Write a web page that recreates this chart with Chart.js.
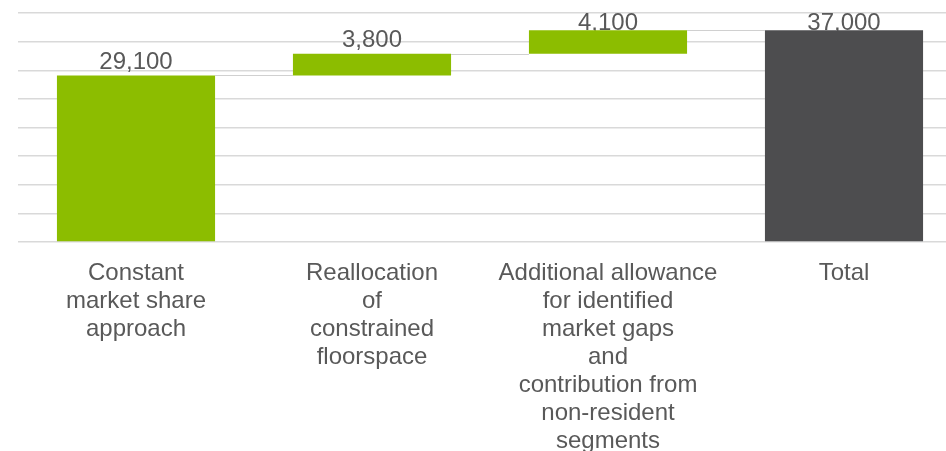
<!DOCTYPE html>
<html>
<head>
<meta charset="utf-8">
<script src="https://cdn.jsdelivr.net/npm/chart.js@4.4.1/dist/chart.umd.min.js"></script>
<style>
    html, body { margin: 0; padding: 0; background: #fff; overflow: hidden; }
    #contenedor { width: 964px; height: 451px; }
</style>
</head>
<body>
<div id="contenedor"><canvas id="puenteChart" width="964" height="451"></canvas></div>
<script>
// Datos del gráfico de cascada
const categorias = [
    ['Constant', 'market share', 'approach'],
    ['Reallocation', 'of', 'constrained', 'floorspace'],
    ['Additional allowance', 'for identified', 'market gaps', 'and', 'contribution from', 'non-resident', 'segments'],
    ['Total']
];
const incrementos = [29100, 3800, 4100];
const total = 37000;
const ejeY = { min: 0, max: 40000, paso: 5000 };
const colores = ['#8CBD00', '#8CBD00', '#8CBD00', '#4D4D4F'];

// Rangos flotantes: cada paso empieza donde termina el anterior
const rangos = [];
let acumulado = 0;
incrementos.forEach(v => {
    rangos.push([acumulado, acumulado + v]);
    acumulado += v;
});
rangos.push([0, total]);
const etiquetas = incrementos.concat([total]);

const fuente = 'Liberation Sans, Arial, sans-serif';

// Etiquetas de valor (se dibujan antes de las barras, quedan detrás)
const etiquetasValor = {
    id: 'etiquetasValor',
    beforeDatasetsDraw(chart) {
        const ctx = chart.ctx;
        const barras = chart.getDatasetMeta(0).data;
        ctx.save();
        ctx.font = '24px ' + fuente;
        ctx.fillStyle = '#595959';
        ctx.textAlign = 'center';
        ctx.textBaseline = 'middle';
        barras.forEach((barra, i) => {
            const y = Math.max(barra.y - 13, 23);
            ctx.fillText(etiquetas[i].toLocaleString('en-US'), barra.x, y);
        });
        ctx.restore();
    },
    // Líneas conectoras entre barras
    afterDatasetsDraw(chart) {
        const ctx = chart.ctx;
        const barras = chart.getDatasetMeta(0).data;
        const y = chart.scales.y;
        ctx.save();
        ctx.strokeStyle = '#D0D0D0';
        ctx.lineWidth = 1;
        for (let i = 0; i < barras.length - 1; i++) {
            const py = Math.round(y.getPixelForValue(rangos[i][1])) + 0.5;
            ctx.beginPath();
            ctx.moveTo(barras[i].x + barras[i].width / 2, py);
            ctx.lineTo(barras[i + 1].x - barras[i + 1].width / 2, py);
            ctx.stroke();
        }
        ctx.restore();
    }
};

const ctx = document.getElementById('puenteChart').getContext('2d');
new Chart(ctx, {
    type: 'bar',
    data: {
        labels: categorias,
        datasets: [{
            data: rangos,
            backgroundColor: colores,
            borderWidth: 0,
            categoryPercentage: 1,
            barPercentage: 0.67
        }]
    },
    options: {
        responsive: false,
        animation: false,
        layout: { padding: { left: 18, right: 2, top: 13, bottom: 0 } },
        plugins: {
            legend: { display: false },
            tooltip: { enabled: false }
        },
        scales: {
            x: {
                grid: { display: false, drawTicks: false },
                border: { display: false },
                ticks: {
                    color: '#595959',
                    font: { family: fuente, size: 24, lineHeight: 1.17 },
                    padding: 17,
                    maxRotation: 0,
                    autoSkip: false
                },
                afterFit: (eje) => { eje.height = 209; }
            },
            y: {
                min: ejeY.min,
                max: ejeY.max,
                ticks: { display: false, stepSize: ejeY.paso },
                grid: { color: '#D9D9D9', lineWidth: 1.5, drawTicks: false },
                border: { display: false }
            }
        }
    },
    plugins: [etiquetasValor]
});
</script>
</body>
</html>
